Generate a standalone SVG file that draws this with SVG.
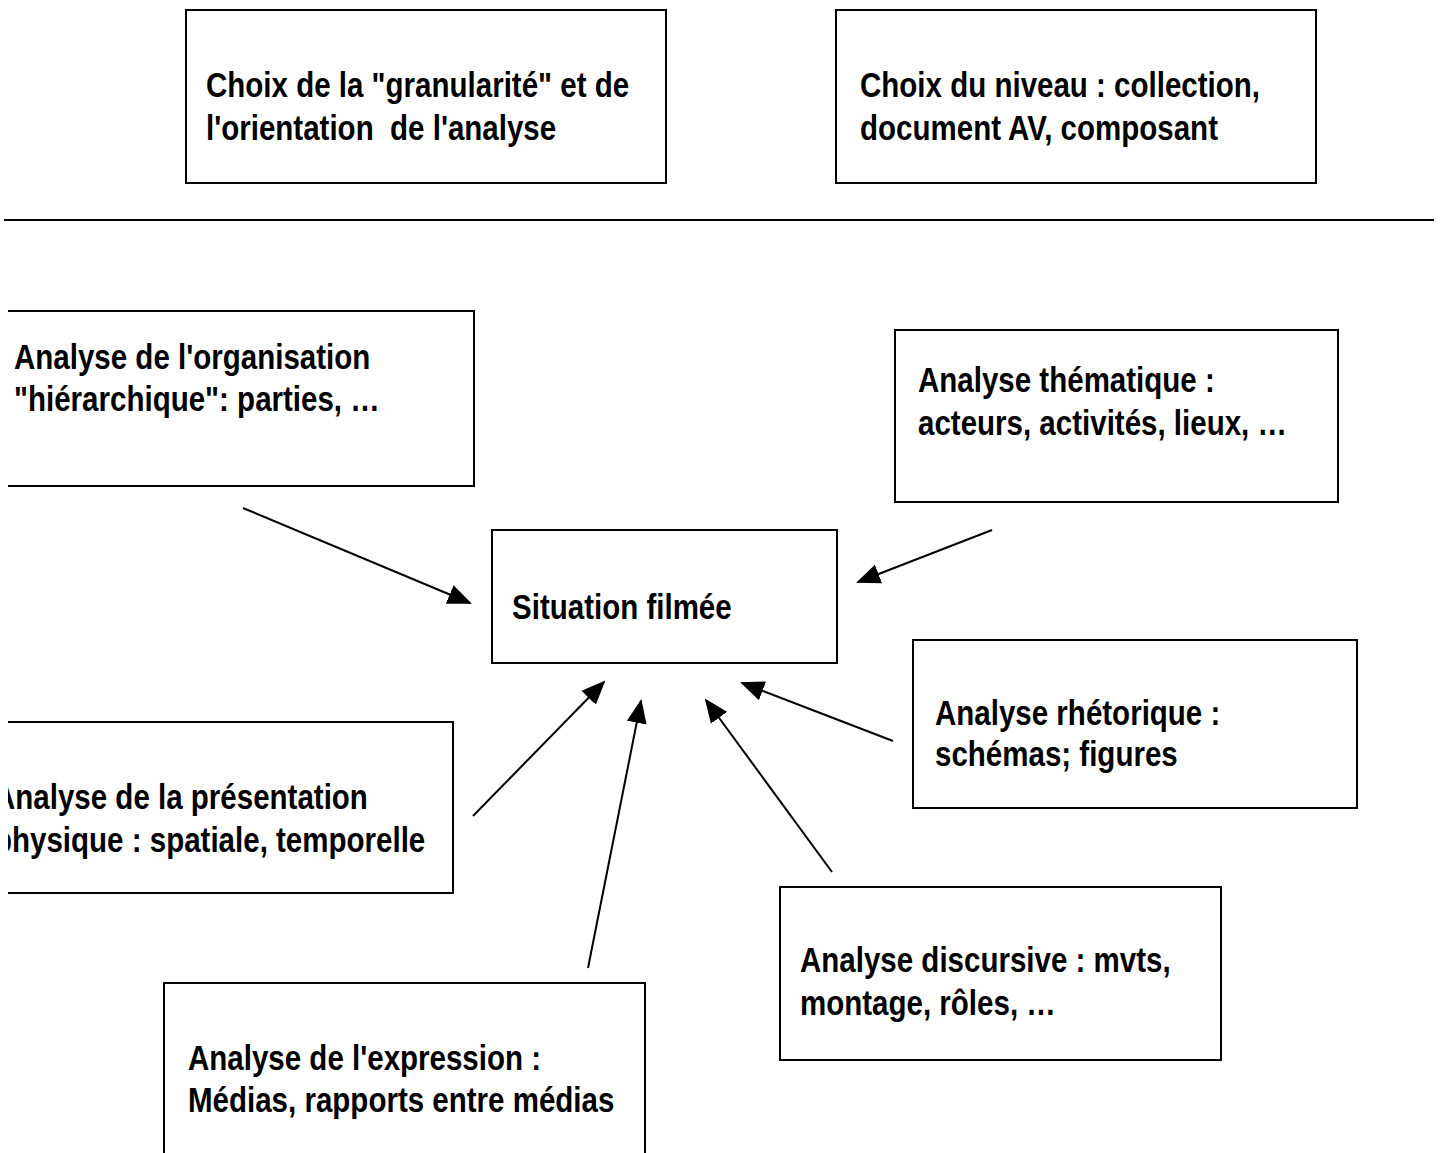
<svg xmlns="http://www.w3.org/2000/svg" width="1440" height="1153" viewBox="0 0 1440 1153">
<style>
.box{fill:#fff;stroke:#000;stroke-width:2}
.t{font-family:"Liberation Sans","Arial",sans-serif;font-weight:bold;font-size:36px;fill:#000}
</style>
<defs>
<marker id="ah" markerUnits="userSpaceOnUse" markerWidth="24" markerHeight="22" refX="22" refY="11" orient="auto" viewBox="0 0 24 22"><path d="M0,1 L24,11 L0,21 z" fill="#000"/></marker>
<clipPath id="clipL"><rect x="8" y="0" width="1432" height="1153"/></clipPath>
</defs>
<rect width="1440" height="1153" fill="#fff"/>
<line x1="4" y1="220" x2="1434" y2="220" stroke="#000" stroke-width="2"/>
<g id="granularite">
<rect class="box" x="186" y="10" width="480" height="173"/>
<text class="t" transform="translate(206,97) scale(0.82,1)">Choix de la "granularité" et de</text>
<text class="t" transform="translate(206,140) scale(0.82,1)" xml:space="preserve">l'orientation  de l'analyse</text>
</g>
<g id="niveau">
<rect class="box" x="836" y="10" width="480" height="173"/>
<text class="t" transform="translate(860,97) scale(0.82,1)">Choix du niveau : collection,</text>
<text class="t" transform="translate(860,140) scale(0.82,1)">document AV, composant</text>
</g>
<g id="organisation" clip-path="url(#clipL)">
<path class="box" d="M8,311 H474 V486 H8"/>
<text class="t" transform="translate(14,369) scale(0.82,1)">Analyse de l'organisation</text>
<text class="t" transform="translate(14,411) scale(0.82,1)">"hiérarchique": parties, …</text>
</g>
<g id="thematique">
<rect class="box" x="895" y="330" width="443" height="172"/>
<text class="t" transform="translate(918,392) scale(0.82,1)">Analyse thématique :</text>
<text class="t" transform="translate(918,435) scale(0.82,1)">acteurs, activités, lieux, …</text>
</g>
<g id="situation">
<rect class="box" x="492" y="530" width="345" height="133"/>
<text class="t" transform="translate(512,619) scale(0.82,1)">Situation filmée</text>
</g>
<g id="rhetorique">
<rect class="box" x="913" y="640" width="444" height="168"/>
<text class="t" transform="translate(935,725) scale(0.82,1)">Analyse rhétorique :</text>
<text class="t" transform="translate(935,766) scale(0.82,1)">schémas; figures</text>
</g>
<g id="presentation" clip-path="url(#clipL)">
<path class="box" d="M8,722 H453 V893 H8"/>
<text class="t" transform="translate(-6,809) scale(0.82,1)">Analyse de la présentation</text>
<text class="t" transform="translate(-6,852) scale(0.82,1)">physique : spatiale, temporelle</text>
</g>
<g id="discursive">
<rect class="box" x="780" y="887" width="441" height="173"/>
<text class="t" transform="translate(800,972) scale(0.82,1)">Analyse discursive : mvts,</text>
<text class="t" transform="translate(800,1015) scale(0.82,1)">montage, rôles, …</text>
</g>
<g id="expression">
<path class="box" d="M164,1160 V983 H645 V1160"/>
<text class="t" transform="translate(188,1070) scale(0.82,1)">Analyse de l'expression :</text>
<text class="t" transform="translate(188,1112) scale(0.82,1)">Médias, rapports entre médias</text>
</g>
<g id="connectors" stroke="#000" stroke-width="2" fill="none">
<line x1="243" y1="508" x2="470" y2="603" marker-end="url(#ah)"/>
<line x1="992" y1="530" x2="858" y2="582" marker-end="url(#ah)"/>
<line x1="893" y1="741" x2="742" y2="683" marker-end="url(#ah)"/>
<line x1="473" y1="816" x2="604" y2="682" marker-end="url(#ah)"/>
<line x1="588" y1="968" x2="641" y2="701" marker-end="url(#ah)"/>
<line x1="832" y1="872" x2="706" y2="700" marker-end="url(#ah)"/>
</g>
</svg>
